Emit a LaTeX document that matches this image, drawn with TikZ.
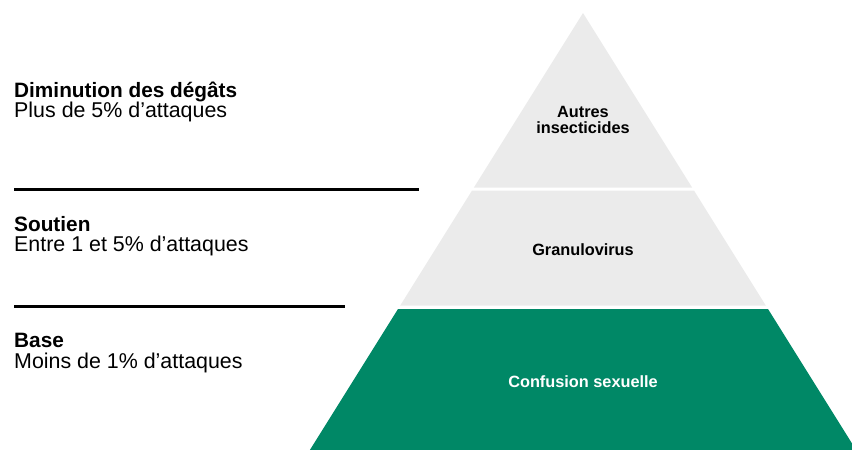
\documentclass[tikz,border=0pt]{standalone}
\usepackage{fontspec}
\setmainfont{Liberation Sans}
\definecolor{tiergrey}{RGB}{235,235,235}
\definecolor{tiergreen}{RGB}{0,136,102}
\begin{document}
\begin{tikzpicture}[x=1pt,y=-1pt,
  lefthead/.style={anchor=base west,inner sep=0pt,font=\fontsize{20.8}{22}\selectfont\bfseries},
  leftsub/.style={anchor=base west,inner sep=0pt,font=\fontsize{21.4}{22}\selectfont},
  tierlbl/.style={inner sep=0pt,align=center,font=\fontsize{16.3}{16.5}\selectfont\bfseries},
  sepline/.style={line width=3.3pt,black}]
\useasboundingbox (0,0) rectangle (852,450);
\clip (0,0) rectangle (852,450);
% pyramid tiers
\fill[tiergrey]  (583,13) -- (473.9,187.5) -- (692.1,187.5) -- cycle;
\fill[tiergrey]  (471.9,190.7) -- (694.1,190.7) -- (765.9,305.7) -- (400.1,305.7) -- cycle;
\fill[tiergreen] (398,309) -- (768,309) -- (856.1,450) -- (309.9,450) -- cycle;
% separator lines
\coordinate (s1a) at (14,189.3);
\coordinate (s1b) at (418.5,189.3);
\coordinate (s2a) at (14,306.8);
\coordinate (s2b) at (345,306.8);
\draw[sepline] (s1a) -- (s1b);
\draw[sepline] (s2a) -- (s2b);
% left texts
\node[lefthead] (h1) at (14,97) {Diminution des dégâts};
\node[leftsub]  (d1) at (14,117) {Plus de 5\% d’attaques};
\node[lefthead] (h2) at (14,231) {Soutien};
\node[leftsub]  (d2) at (14,251.5) {Entre 1 et 5\% d’attaques};
\node[lefthead] (h3) at (14,347) {Base};
\node[leftsub]  (d3) at (14,368.5) {Moins de 1\% d’attaques};
% tier labels
\node[tierlbl] (t1) at (583,120) {Autres\\insecticides};
\node[tierlbl] (t2) at (583,250) {Granulovirus};
\node[tierlbl,text=white] (t3) at (583,381.5) {Confusion sexuelle};
\end{tikzpicture}
\end{document}
